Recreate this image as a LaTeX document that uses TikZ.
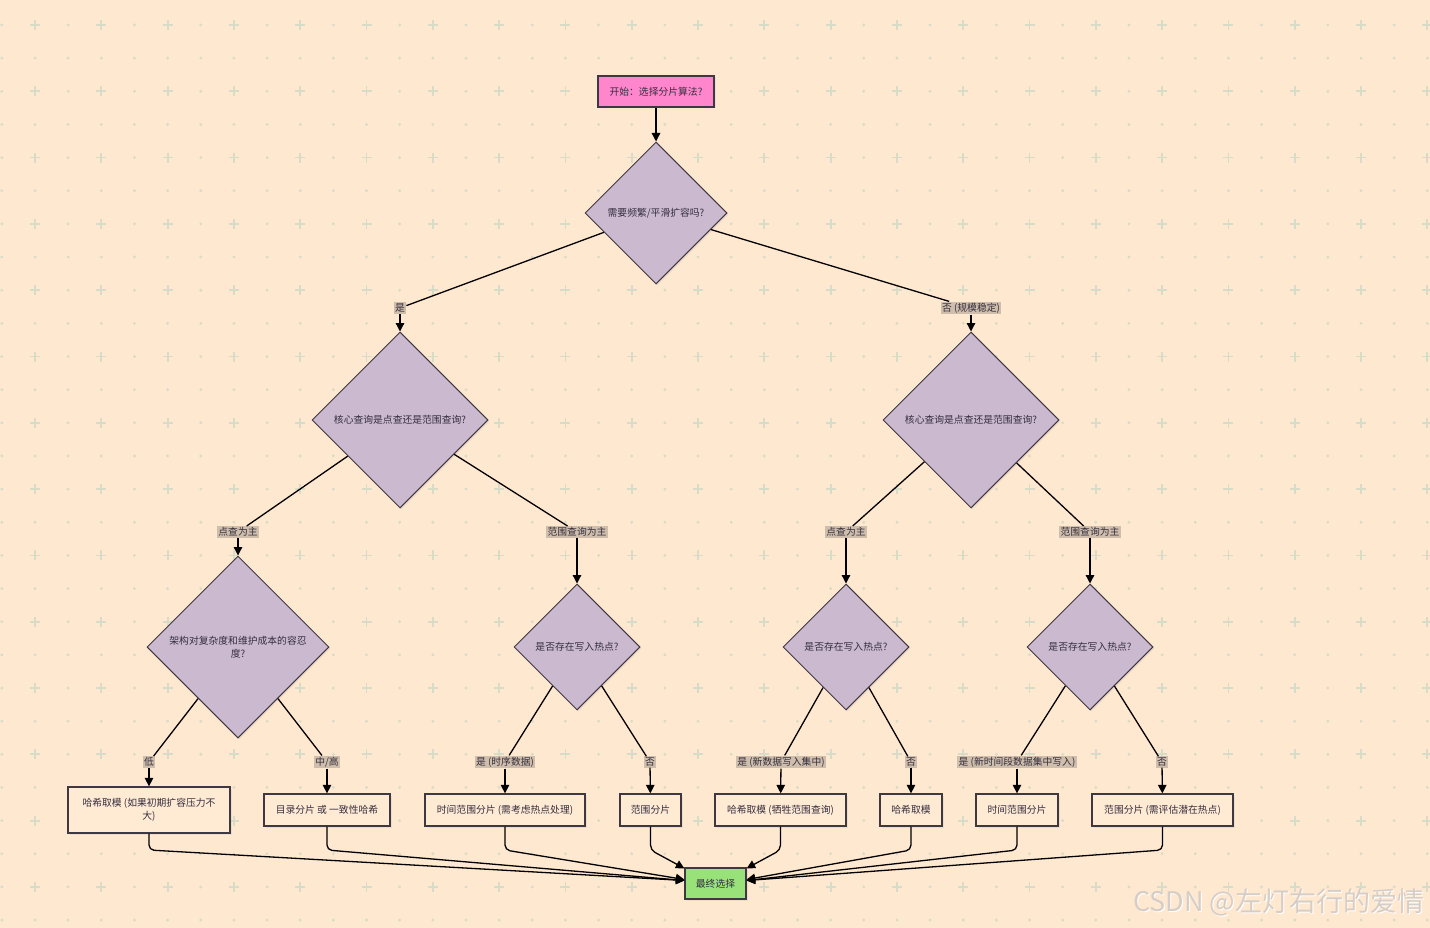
\documentclass[tikz,border=0pt]{standalone}
\usepackage{fontspec}
\setmainfont{Noto Sans CJK SC}
\usetikzlibrary{shapes.geometric,arrows.meta,shadows,calc}
\definecolor{bgc}{RGB}{255,232,208}
\definecolor{gridc}{RGB}{215,220,200}
\definecolor{pinkc}{RGB}{255,134,204}
\definecolor{diac}{RGB}{203,185,208}
\definecolor{leafc}{RGB}{255,234,212}
\definecolor{finc}{RGB}{153,226,122}
\definecolor{bordc}{RGB}{62,56,66}
\definecolor{lblc}{RGB}{207,190,172}
\definecolor{txtc}{RGB}{52,46,62}
\definecolor{wmc}{RGB}{214,206,198}
\begin{document}
\begin{tikzpicture}[x=1pt,y=-1pt,
  every node/.style={font=\fontsize{9.8}{13}\selectfont, text=txtc},
  shd/.style={drop shadow={shadow xshift=1.5pt,shadow yshift=-1.5pt,opacity=0.12}},
  box/.style={draw=bordc, line width=1.3pt, rectangle, inner sep=2pt, align=center, shd},
  leaf/.style={box, fill=leafc, minimum height=32pt},
  dia/.style={draw=bordc, line width=1pt, diamond, aspect=1, fill=diac, inner sep=0pt, align=center, shd},
  lbl/.style={fill=lblc, inner sep=1.3pt},
  conn/.style={line width=1.3pt, draw=black},
  arr/.style={conn, -{Triangle[length=8.5pt,width=8.5pt]}},
]
\useasboundingbox (0,0) rectangle (1430,928);
\fill[bgc] (0,0) rectangle (1430,928);
% background grid
\foreach \i in {0,...,21}{
  \foreach \j in {0,...,13}{
    \draw[gridc, line width=1.8pt] (30+66.3*\i,25+66.3*\j) -- ++(10,0)
      (35+66.3*\i,20+66.3*\j) -- ++(0,10);
  }
}
\foreach \i in {0,...,43}{
  \foreach \j in {0,...,13}{
    \fill[gridc] (1.85+33.15*\i,58.15+66.3*\j) circle (1.6pt);
  }
}
\foreach \i in {-1,...,20}{
  \foreach \j in {0,...,13}{
    \fill[gridc] (68.15+66.3*\i,25+66.3*\j) circle (1.6pt);
  }
}

% nodes
\node[box, fill=pinkc, minimum width=116pt, minimum height=31pt] (st) at (656,91.5) {开始：选择分片算法?};
\node[dia, minimum width=142pt, minimum height=142pt] (d1) at (656,213) {需要频繁/平滑扩容吗?};
\node[dia, minimum width=176pt, minimum height=176pt] (d2l) at (400,420) {核心查询是点查还是范围查询?};
\node[dia, minimum width=176pt, minimum height=176pt] (d2r) at (971,420) {核心查询是点查还是范围查询?};
\node[dia, minimum width=182pt, minimum height=182pt] (d3a) at (238,647) {架构对复杂度和维护成本的容忍\\度?};
\node[dia, minimum width=126pt, minimum height=126pt] (d3b) at (577,647) {是否存在写入热点?};
\node[dia, minimum width=126pt, minimum height=126pt] (d3c) at (846,647) {是否存在写入热点?};
\node[dia, minimum width=126pt, minimum height=126pt] (d3d) at (1090,647) {是否存在写入热点?};

\node[leaf, minimum width=162pt, minimum height=46pt] (l1) at (149,810) {哈希取模 (如果初期扩容压力不\\大)};
\node[leaf, minimum width=126pt] (l2) at (327,810) {目录分片 或 一致性哈希};
\node[leaf, minimum width=160pt] (l3) at (505,810) {时间范围分片 (需考虑热点处理)};
\node[leaf, minimum width=61pt] (l4) at (650.5,810) {范围分片};
\node[leaf, minimum width=131pt] (l5) at (780.5,810) {哈希取模 (牺牲范围查询)};
\node[leaf, minimum width=62pt] (l6) at (911,810) {哈希取模};
\node[leaf, minimum width=82pt] (l7) at (1017,810) {时间范围分片};
\node[leaf, minimum width=141pt] (l8) at (1162.5,810) {范围分片 (需评估潜在热点)};

\node[box, fill=finc, minimum width=61pt, minimum height=31pt] (fin) at (715.5,883.5) {最终选择};

% edge labels
\node[lbl] (e1) at (400,308) {是};
\node[lbl] (e2) at (971,308) {否 (规模稳定)};
\node[lbl] (e3) at (238,532) {点查为主};
\node[lbl] (e4) at (577,532) {范围查询为主};
\node[lbl] (e5) at (846,532) {点查为主};
\node[lbl] (e6) at (1090,532) {范围查询为主};
\node[lbl] (e7) at (149,762) {低};
\node[lbl] (e8) at (327,762) {中/高};
\node[lbl] (e9) at (505,762) {是 (时序数据)};
\node[lbl] (e10) at (650,762) {否};
\node[lbl] (e11) at (781,762) {是 (新数据写入集中)};
\node[lbl] (e12) at (911,762) {否};
\node[lbl] (e13) at (1017,762) {是 (新时间段数据集中写入)};
\node[lbl] (e14) at (1162,762) {否};

% connectors
\draw[arr] (st) -- (d1);
\draw[conn] (d1) -- (e1);  \draw[arr] (e1) -- (d2l);
\draw[conn] (d1) -- (e2);  \draw[arr] (e2) -- (d2r);
\draw[conn] (d2l) -- (e3); \draw[arr] (e3) -- (d3a);
\draw[conn] (d2l) -- (e4); \draw[arr] (e4) -- (d3b);
\draw[conn] (d2r) -- (e5); \draw[arr] (e5) -- (d3c);
\draw[conn] (d2r) -- (e6); \draw[arr] (e6) -- (d3d);
\draw[conn] (d3a) -- (e7);  \draw[arr] (e7) -- (l1);
\draw[conn] (d3a) -- (e8);  \draw[arr] (e8) -- (l2);
\draw[conn] (d3b) -- (e9);  \draw[arr] (e9) -- (l3);
\draw[conn] (d3b) -- (e10); \draw[arr] (e10) -- (l4);
\draw[conn] (d3c) -- (e11); \draw[arr] (e11) -- (l5);
\draw[conn] (d3c) -- (e12); \draw[arr] (e12) -- (l6);
\draw[conn] (d3d) -- (e13); \draw[arr] (e13) -- (l7);
\draw[conn] (d3d) -- (e14); \draw[arr] (e14) -- (l8);

\coordinate (bus) at (0,850);
\draw[arr, rounded corners=5pt] (l1.south) -- (l1.south |- bus) -- ([yshift=3pt]fin.west);
\draw[arr, rounded corners=5pt] (l2.south) -- (l2.south |- bus) -- ([yshift=3pt]fin.west);
\draw[arr, rounded corners=5pt] (l3.south) -- (l3.south |- bus) -- ([yshift=4pt]fin.west);
\draw[arr, rounded corners=5pt] (l4.south) -- (l4.south |- bus) -- ([yshift=-1pt]fin.north west);
\draw[arr, rounded corners=5pt] (l5.south) -- (l5.south |- bus) -- ([yshift=-1pt]fin.north east);
\draw[arr, rounded corners=5pt] (l6.south) -- (l6.south |- bus) -- ([yshift=4pt]fin.east);
\draw[arr, rounded corners=5pt] (l7.south) -- (l7.south |- bus) -- ([yshift=3pt]fin.east);
\draw[arr, rounded corners=5pt] (l8.south) -- (l8.south |- bus) -- ([yshift=3pt]fin.east);

% watermark
\node[font=\fontsize{27}{30}\selectfont, text=white, anchor=east] (wm2) at (1429,903) {CSDN @左灯右行的爱情};
\node[font=\fontsize{27}{30}\selectfont, text=wmc, anchor=east] (wm) at (1428,902) {CSDN @左灯右行的爱情};
\end{tikzpicture}
\end{document}
